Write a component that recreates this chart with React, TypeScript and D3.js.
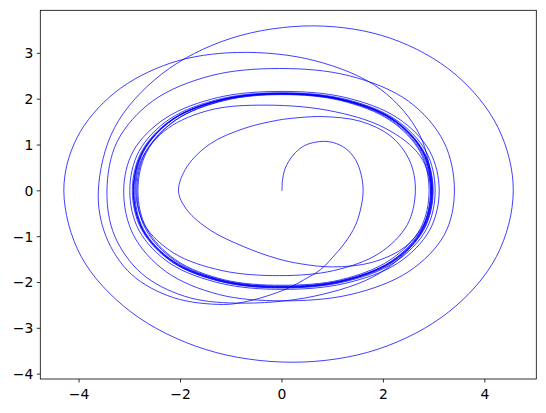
import React from "react";
import * as d3 from "d3";

const W = 546;
const H = 413;

// axis ticks and limits
const xTicks = [-4, -2, 0, 2, 4];
const yTicks = [-4, -3, -2, -1, 0, 1, 2, 3];
const xDomain = [-4.764, 5.014];
const yDomain = [-4.106, 3.94];

// phase-space trajectory (x, dx/dt), in time order
const startPath: [number, number][] = [
  [0, 0], [0.01, 0.22], [0.05, 0.45], [0.13, 0.64], [0.27, 0.84], [0.45, 0.99], [0.65, 1.06],
  [0.82, 1.08], [1.02, 1.05], [1.25, 0.93], [1.45, 0.68], [1.56, 0.36], [1.6, 0],
  [1.56, -0.35], [1.45, -0.75], [1.25, -1.12], [1.0, -1.45], [0.76, -1.72], [0.45, -1.93],
  [0.17, -2.1], [-0.2, -2.26], [-0.68, -2.41], [-1.15, -2.48],
];

const growPath: [number, number][] = [
  [-2.14, -2.33], [-2.97, -1.82], [-3.47, -0.99], [-3.62, 0],
  [-3.3, 1.38], [-2.37, 2.55], [-1.0, 3.33], [0.63, 3.6],
  [2.14, 3.33], [3.41, 2.55], [4.26, 1.38], [4.56, 0],
  [4.23, -1.43], [3.29, -2.64], [1.88, -3.46], [0.22, -3.74],
  [-1.51, -3.46], [-2.98, -2.64], [-3.96, -1.43], [-4.3, 0],
  [-4.04, 1.16], [-3.3, 2.14], [-2.19, 2.79], [-0.88, 3.02],
  [0.65, 2.84], [1.94, 2.22], [2.72, 1.21], [2.95, 0],
];

const decayPath: [number, number][] = [
  [2.83, -0.66], [2.43, -1.22], [1.78, -1.56], [1.0, -1.66],
  [0.36, -1.59], [-0.09, -1.48], [-0.75, -1.22], [-1.41, -0.86], [-1.87, -0.42], [-2.04, 0],
  [-1.87, 0.53], [-1.41, 1.03], [-0.75, 1.36], [-0.09, 1.54], [0.36, 1.6], [0.82, 1.62],
  [1.54, 1.52], [2.15, 1.19], [2.52, 0.65], [2.63, 0],
  [2.47, -0.74], [1.92, -1.36], [1.02, -1.74], [-0.05, -1.85],
  [-1.18, -1.74], [-2.13, -1.36], [-2.71, -0.74], [-2.88, 0],
  [-2.74, 0.75], [-2.24, 1.37], [-1.43, 1.76], [-0.47, 1.87],
  [0.89, 1.76], [2.03, 1.37], [2.73, 0.75], [2.93, 0],
  [2.7, -0.98], [1.92, -1.8], [0.63, -2.3], [-0.9, -2.45],
  [-1.92, -2.3], [-2.77, -1.8], [-3.3, -0.98], [-3.45, 0],
  [-3.25, 1.07], [-2.55, 1.96], [-1.41, 2.51], [-0.05, 2.67],
  [1.33, 2.51], [2.49, 1.96], [3.19, 1.07], [3.4, 0],
  [3.2, -0.96], [2.5, -1.76], [1.36, -2.26], [0, -2.4],
  [-1.25, -2.26], [-2.29, -1.76], [-2.93, -0.96], [-3.12, 0],
  [-2.93, 0.87], [-2.29, 1.59], [-1.25, 2.04], [0, 2.17],
  [1.24, 2.04], [2.28, 1.59], [2.91, 0.87], [3.1, 0],
];

const settlePath: [number, number][] = [
  [2.91, -0.86], [2.28, -1.58], [1.24, -2.02], [0, -2.15], [-1.2, -2.02], [-2.21, -1.58], [-2.82, -0.86], [-3.0, 0],
  [-2.82, 0.86], [-2.21, 1.57], [-1.2, 2.01], [0, 2.14], [1.21, 2.01], [2.22, 1.57], [2.84, 0.86], [3.02, 0],
  [2.84, -0.85], [2.22, -1.56], [1.21, -1.99], [0, -2.12], [-1.17, -1.99], [-2.15, -1.56], [-2.74, -0.85], [-2.92, 0],
  [-2.74, 0.85], [-2.15, 1.56], [-1.17, 1.99], [0, 2.12], [1.18, 1.99], [2.17, 1.56], [2.77, 0.85], [2.95, 0],
  [2.77, -0.83], [2.17, -1.53], [1.18, -1.96], [0, -2.08], [-1.14, -1.96], [-2.1, -1.53], [-2.69, -0.83], [-2.86, 0],
  [-2.69, 0.84], [-2.1, 1.54], [-1.14, 1.97], [0, 2.1], [1.16, 1.97], [2.13, 1.54], [2.73, 0.84], [2.9, 0],
  [2.73, -0.82], [2.13, -1.51], [1.16, -1.94], [0, -2.06], [-1.14, -1.94], [-2.09, -1.51], [-2.67, -0.82], [-2.84, 0],
  [-2.67, 0.84], [-2.09, 1.55], [-1.14, 1.98], [0, 2.11], [1.17, 1.98], [2.15, 1.55], [2.75, 0.84], [2.93, 0],
  [2.75, -0.84], [2.15, -1.54], [1.17, -1.96], [0, -2.09], [-1.16, -1.96], [-2.13, -1.54], [-2.73, -0.84], [-2.9, 0],
  [-2.73, 0.85], [-2.13, 1.57], [-1.16, 2.0], [0, 2.13], [1.19, 2.0], [2.19, 1.57], [2.8, 0.85], [2.98, 0],
  [2.8, -0.84], [2.19, -1.55], [1.19, -1.98], [0, -2.11], [-1.18, -1.98], [-2.17, -1.55], [-2.77, -0.84], [-2.95, 0],
  [-2.77, 0.85], [-2.17, 1.56], [-1.18, 1.99], [0, 2.12], [1.19, 1.99], [2.18, 1.56], [2.79, 0.85], [2.97, 0],
  [2.79, -0.84], [2.18, -1.54], [1.19, -1.97], [0, -2.1], [-1.17, -1.97], [-2.15, -1.54], [-2.75, -0.84], [-2.93, 0],
  [-2.75, 0.85], [-2.15, 1.56], [-1.17, 1.99], [0, 2.12], [1.18, 1.99], [2.18, 1.56], [2.78, 0.85], [2.96, 0],
  [2.78, -0.84], [2.18, -1.54], [1.18, -1.97], [0, -2.1], [-1.17, -1.97], [-2.15, -1.54], [-2.75, -0.84], [-2.93, 0],
  [-2.75, 0.85], [-2.15, 1.56], [-1.17, 1.99], [0, 2.12], [1.18, 1.99], [2.18, 1.56], [2.78, 0.85], [2.96, 0],
];

const margin = { left: 40.3, right: 536.3, top: 10.3, bottom: 379 };
const fontFamily = "'DejaVu Sans', sans-serif";
const fmt = (v: number) => (v < 0 ? "\u2212" + Math.abs(v) : String(v));

export default function App() {
  const pts = [...startPath, ...growPath, ...decayPath, ...settlePath];

  const x = d3.scaleLinear().domain(xDomain).range([margin.left, margin.right]);
  const y = d3.scaleLinear().domain(yDomain).range([margin.bottom, margin.top]);

  const line = d3
    .line<[number, number]>()
    .x((d) => x(d[0]))
    .y((d) => y(d[1]))
    .curve(d3.curveCatmullRom.alpha(0.5));

  return (
    <svg
      width={W}
      height={H}
      style={{ position: "absolute", left: 0, top: 0, background: "#fff" }}
    >
      <rect x={0} y={0} width={W} height={H} fill="#fff" />
      <path d={line(pts) || ""} fill="none" stroke="#0000ff" strokeWidth={0.75} />
      <rect
        x={margin.left}
        y={margin.top}
        width={margin.right - margin.left}
        height={margin.bottom - margin.top}
        fill="none"
        stroke="#000"
        strokeWidth={0.8}
      />
      {xTicks.map((t) => (
        <g key={"x" + t}>
          <line x1={x(t)} x2={x(t)} y1={margin.bottom} y2={margin.bottom + 3.5} stroke="#000" strokeWidth={0.8} />
          <text x={x(t)} y={margin.bottom + 19.5} textAnchor="middle" fontFamily={fontFamily} fontSize={13.9} fill="#000">
            {fmt(t)}
          </text>
        </g>
      ))}
      {yTicks.map((t) => (
        <g key={"y" + t}>
          <line x1={margin.left - 3.5} x2={margin.left} y1={y(t)} y2={y(t)} stroke="#000" strokeWidth={0.8} />
          <text x={margin.left - 7} y={y(t) + 5} textAnchor="end" fontFamily={fontFamily} fontSize={13.9} fill="#000">
            {fmt(t)}
          </text>
        </g>
      ))}
    </svg>
  );
}
